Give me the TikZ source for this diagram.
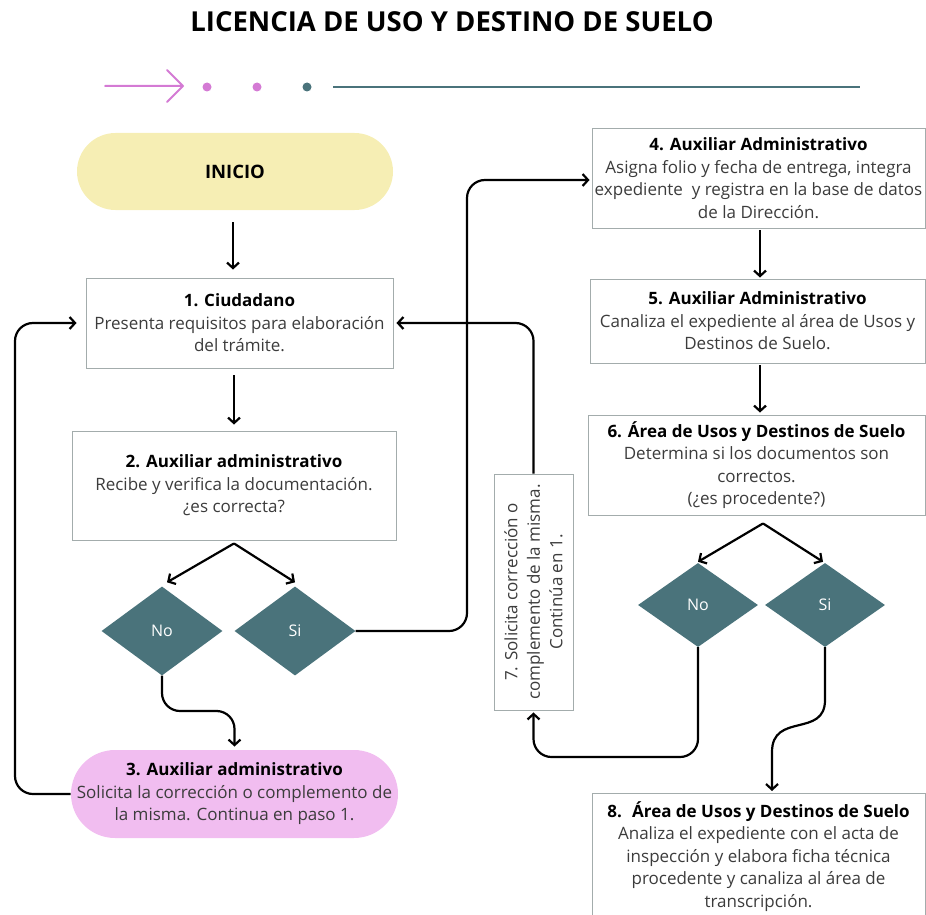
\documentclass[tikz,border=0pt]{standalone}
\usepackage{fontspec}
\setmainfont{Open Sans}
\usetikzlibrary{shapes.geometric,arrows.meta}
\definecolor{dteal}{HTML}{4A737B}
\definecolor{boxgray}{HTML}{A3ACAC}
\definecolor{txtgray}{HTML}{3C3C3C}
\definecolor{pinkfill}{HTML}{F1BDF0}
\definecolor{yelfill}{HTML}{F6EEB4}
\definecolor{pinkline}{HTML}{D47AD4}
\begin{document}
\begin{tikzpicture}[x=1pt,y=-1pt,
  box/.style={draw=boxgray, line width=0.9pt, fill=white, align=center, inner sep=0pt,
    font=\fontsize{17}{22.5}\selectfont, text=txtgray},
  pill/.style={box, draw=none},
  dia/.style={diamond, fill=dteal, draw=none, inner sep=0pt, text=white,
    font=\fontsize{16}{18}\selectfont},
  conn/.style={line width=2.2pt, draw=black, rounded corners=18pt},
  arr/.style={conn, -{Straight Barb[length=5.5pt,width=12pt]}}]
\useasboundingbox (0,0) rectangle (926,915);

% title and decoration
\node[font=\fontsize{27.5}{32}\selectfont\bfseries, text=black] (title) at (452,22) {LICENCIA DE USO Y DESTINO DE SUELO};
\coordinate (pa) at (105,86);
\coordinate (pb) at (183,86);
\draw[pinkline, line width=2pt, line cap=round, line join=round] (pa) -- (pb) (167,70) -- (pb) -- (167,102);
\fill[pinkline] (207,87) circle (4.5);
\fill[pinkline] (257,87) circle (4.5);
\fill[dteal] (307,87) circle (4.5);
\coordinate (la) at (333,87);
\coordinate (lb) at (860,87);
\draw[dteal, line width=2.6pt] (la) -- (lb);

% left column
\node[pill, fill=yelfill, rounded corners=38.5pt, minimum width=316pt, minimum height=77pt, font=\fontsize{18.5}{22}\selectfont] (ini) at (235,171.5) {\bfseries\color{black}INICIO};
\node[box, minimum width=307pt, minimum height=90pt] (b1) at (239.5,323) {{\bfseries\color{black}1. Ciudadano}\\Presenta requisitos para elaboración\\del trámite.};
\node[box, minimum width=324pt, minimum height=109pt] (b2) at (234,485.5) {{\bfseries\color{black}2. Auxiliar administrativo}\\Recibe y verifica la documentación.\\¿es correcta?};
\node[dia, minimum width=121pt, minimum height=89pt] (no1) at (162,631) {No};
\node[dia, minimum width=121pt, minimum height=89pt] (si1) at (295,631) {Si};
\node[pill, fill=pinkfill, rounded corners=44pt, minimum width=327pt, minimum height=88pt] (b3) at (234.5,794) {{\bfseries\color{black}3. Auxiliar administrativo}\\Solicita la corrección o complemento de\\la misma. Continua en paso 1.};

% right column
\node[box, minimum width=333pt, minimum height=100pt] (b4) at (758.5,178) {{\bfseries\color{black}4. Auxiliar Administrativo}\\Asigna folio y fecha de entrega, integra\\expediente \ y registra en la base de datos\\de la Dirección.};
\node[box, minimum width=335pt, minimum height=84pt] (b5) at (757.5,321) {{\bfseries\color{black}5. Auxiliar Administrativo}\\Canaliza el expediente al área de Usos y\\Destinos de Suelo.};
\node[box, minimum width=337pt, minimum height=100pt] (b6) at (756.5,465) {{\bfseries\color{black}6. Área de Usos y Destinos de Suelo}\\Determina si los documentos son\\correctos.\\(¿es procedente?)};
\node[dia, minimum width=120pt, minimum height=84pt] (no2) at (698,605) {No};
\node[dia, minimum width=120pt, minimum height=84pt] (si2) at (825,605) {Si};
\node[box, rotate=90, minimum width=236pt, minimum height=79pt] (b7) at (533.5,592) {7. Solicita corrección o\\complemento de la misma.\\Continúa en 1.};
\draw[boxgray, line width=0.9pt, fill=white] (592,793) rectangle (925,935);
\node[box, draw=none, fill=none, anchor=north] (b8) at (758.5,801) {{\bfseries\color{black}8. \ Área de Usos y Destinos de Suelo}\\Analiza el expediente con el acta de\\inspección y elabora ficha técnica\\procedente y canaliza al área de\\transcripción.};

% straight arrows
\draw[arr] ([xshift=-2pt,yshift=-12pt]ini.south) -- ([xshift=-2pt,yshift=8pt]ini.south |- b1.north);
\draw[arr] ([yshift=-7pt]b1.south -| b2.north) -- ([yshift=6pt]b2.north);
\draw[arr] ([yshift=-3pt]b2.south) -- ([xshift=5pt,yshift=4pt]no1.north);
\draw[arr] ([yshift=-3pt]b2.south) -- ([yshift=4pt]si1.north);
\draw[arr] ([xshift=1.5pt,yshift=-2pt]b4.south) -- ([xshift=1.5pt,yshift=1pt]b4.south |- b5.north);
\draw[arr] ([xshift=2.5pt,yshift=-2pt]b5.south) -- ([xshift=2.5pt,yshift=2pt]b5.south |- b6.north);
\draw[arr] ([xshift=6.5pt,yshift=-8pt]b6.south) -- ([yshift=1pt]no2.north);
\draw[arr] ([xshift=6.5pt,yshift=-8pt]b6.south) -- ([xshift=-2pt,yshift=1pt]si2.north);

% routed connectors
\coordinate (c1) at (467,400);
\draw[arr] (si1.east) -| (c1) |- ([xshift=-2pt,yshift=-2pt]b4.west);
\coordinate (c2) at (200,711);
\draw[arr] (no1.south) |- (c2) -| ([yshift=3pt]b3.north);
\coordinate (c3) at (15,500);
\draw[arr] (b3.west) -| (c3) |- ([xshift=-9pt]b1.west);
\draw[arr] (b7.east) |- ([xshift=3pt]b1.east);
\coordinate (c4) at (600,757);
\draw[arr] (no2.south) |- (c4) -| ([yshift=-2pt]b7.west);
\coordinate (e8) at (772,791);
\draw[arr, rounded corners=0pt] (si2.south) -- (825,700) .. controls (825,738) and (772,712) .. (772,752) -- (e8);
\end{tikzpicture}
\end{document}
